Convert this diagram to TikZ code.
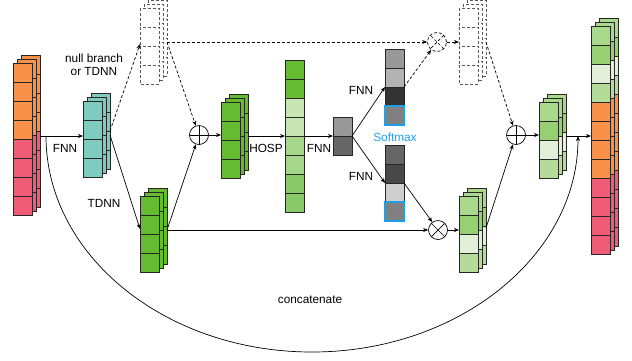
\documentclass[tikz,border=0pt]{standalone}
\usepackage{fontspec}
\setmainfont{Liberation Sans}
\usepackage{tikz}
\usetikzlibrary{arrows.meta}
\usepackage{xcolor}
\definecolor{inorange}{RGB}{250,145,75}
\definecolor{inred}{RGB}{240,92,117}
\definecolor{tealc}{RGB}{128,203,192}
\definecolor{greenc}{RGB}{102,187,48}
\definecolor{hosplight}{RGB}{200,229,180}
\definecolor{hospmid}{RGB}{165,215,138}
\definecolor{hospdark}{RGB}{137,201,103}
\definecolor{outa}{RGB}{168,217,140}
\definecolor{outb}{RGB}{150,208,114}
\definecolor{outc}{RGB}{226,240,217}
\definecolor{outd}{RGB}{180,220,152}
\definecolor{grayA}{RGB}{153,153,153}
\definecolor{grayB}{RGB}{179,179,179}
\definecolor{grayC}{RGB}{51,51,51}
\definecolor{grayD}{RGB}{128,128,128}
\definecolor{grayE}{RGB}{102,102,102}
\definecolor{grayF}{RGB}{72,72,72}
\definecolor{grayG}{RGB}{207,207,207}
\definecolor{softblue}{RGB}{30,160,230}

% one column of cells: x, y top, colours, extra style
\newcommand{\cellcol}[4]{%
  \foreach \c [count=\i from 0] in {#3} {\filldraw[cellbox, fill=\c, #4] (#1,{#2+19*\i}) rectangle ++(19,19);}}
% three columns stacked behind each other
\newcommand{\layered}[4]{%
  \foreach \d in {8,4,0} {\cellcol{#1+\d}{#2-\d}{#3}{#4}}}

\begin{document}
\begin{tikzpicture}[x=1pt, y=-1pt,
    font=\fontsize{11.8}{13.5}\selectfont,
    cellbox/.style={draw=black!85, line width=0.7pt},
    nullbox/.style={draw=black!65, dashed, dash pattern=on 3pt off 2pt},
    conn/.style={line width=0.7pt, -{Stealth[length=5pt, width=4pt]}},
    nullconn/.style={conn, dash pattern=on 3pt off 2pt},
    opnode/.style={circle, draw, line width=0.7pt, minimum size=19, inner sep=0pt},
    plusop/.style={opnode, path picture={
        \draw[line width=0.7pt] (path picture bounding box.north) -- (path picture bounding box.south)
              (path picture bounding box.west) -- (path picture bounding box.east);}},
    timesop/.style={opnode, path picture={
        \draw[line width=0.7pt] (path picture bounding box.north west) -- (path picture bounding box.south east)
              (path picture bounding box.south west) -- (path picture bounding box.north east);}}]
    \useasboundingbox (0,0) rectangle (632,360);
    % Input frames
    \layered{13}{63}{inorange,inorange,inorange,inorange,inred,inred,inred,inred}{}
    % FNN branch
    \layered{83}{101}{tealc,tealc,tealc,tealc}{}
    % TDNN branch
    \layered{140}{196}{greenc,greenc,greenc,greenc}{}
    % Null branch (dashed)
    \layered{140}{8}{white,white,white,white}{nullbox}
    \layered{459}{8}{white,white,white,white}{nullbox}
    % Sum
    \layered{221}{102}{greenc,greenc,greenc,greenc}{}
    % HOSP vector
    \cellcol{285}{60}{greenc,greenc,hosplight,hosplight,hospmid,hospmid,hospdark,hospdark}{}
    % FNN output
    \cellcol{333}{117}{grayA,grayE}{}
    % Attention weights
    \cellcol{385}{49}{grayA,grayB,grayC,grayD}{}
    \cellcol{385}{145}{grayE,grayF,grayG,grayD}{}
    \draw[softblue, line width=1.2pt] (385,106) rectangle ++(19,19);
    \draw[softblue, line width=1.2pt] (385,202) rectangle ++(19,19);
    % Weighted frames
    \layered{459}{196}{outa,outb,outc,outd}{}
    \layered{539}{102}{outa,outb,outc,outd}{}
    % Output frames
    \layered{591}{26}{outa,outb,outc,outd,inorange,inorange,inorange,inorange,inred,inred,inred,inred}{}

    % Operators
    \node[plusop] (add1) at (199,135) {};
    \node[timesop] (mul) at (438,230) {};
    \node[timesop, dashed, dash pattern=on 3pt off 2pt] (mulnull) at (437,42) {};
    \node[plusop] (add2) at (516,135) {};

    % Anchor points
    \coordinate (inout) at (40,136);
    \coordinate (catstart) at (46,136);
    \coordinate (tealin) at (83,136);
    \coordinate (tealup) at (110,131);
    \coordinate (tealdown) at (110,135);
    \coordinate (nullin) at (140,44);
    \coordinate (nullout) at (167,42);
    \coordinate (tdnnin) at (140,229);
    \coordinate (tdnnout) at (167,230);
    \coordinate (sumin) at (221,135);
    \coordinate (sumout) at (248,136);
    \coordinate (hospin) at (285,136);
    \coordinate (hospout) at (305,136);
    \coordinate (fnnin) at (333,136);
    \coordinate (fnnout) at (352,136);
    \coordinate (attup) at (385,87);
    \coordinate (attupout) at (404,87);
    \coordinate (attdown) at (385,183);
    \coordinate (attdownout) at (404,183);
    \coordinate (null2in) at (459,42);
    \coordinate (null2out) at (486,42);
    \coordinate (wgtin) at (459,230);
    \coordinate (wgtout) at (486,228);
    \coordinate (resin) at (539,135);
    \coordinate (resout) at (566,136);
    \coordinate (finalin) at (591,136);
    \coordinate (catend) at (578,136);
    \coordinate (catlow) at (312,352);

    % Connectors
    \draw[conn] (inout) -- (tealin);
    \draw[nullconn] (tealup) -- (nullin);
    \draw[conn] (tealdown) -- (tdnnin);
    \draw[nullconn] (nullout) -- (add1);
    \draw[conn] (tdnnout) -- (add1);
    \draw[conn] (tdnnout) -- (mul);
    \draw[conn] (add1) -- (sumin);
    \draw[conn] (sumout) -- (hospin);
    \draw[conn] (hospout) -- (fnnin);
    \draw[conn] (fnnout) -- (attup);
    \draw[conn] (fnnout) -- (attdown);
    \draw[nullconn] (attupout) -- (mulnull);
    \draw[nullconn] (nullout) -- (mulnull);
    \draw[nullconn] (mulnull) -- (null2in);
    \draw[nullconn] (null2out) -- (add2);
    \draw[conn] (attdownout) -- (mul);
    \draw[conn] (mul) -- (wgtin);
    \draw[conn] (wgtout) -- (add2);
    \draw[conn] (add2) -- (resin);
    \draw[conn] (resout) -- (finalin);
    \draw[conn] (catstart) .. controls (46,255) and (165,352) .. (catlow)
                           .. controls (459,352) and (578,255) .. (catend);

    % Labels
    \node[align=center] (nulllabel) at (94,65) {null branch\\or TDNN};
    \node (fnnlabel) at (65,148) {FNN};
    \node (tdnnlabel) at (104,203) {TDNN};
    \node (hosplabel) at (266,148) {HOSP};
    \node (fnnlabel2) at (319,148) {FNN};
    \node (fnnlabel3) at (361,90) {FNN};
    \node (fnnlabel4) at (361,176) {FNN};
    \node[softblue] (softlabel) at (395,137) {Softmax};
    \node (catlabel) at (310,300) {concatenate};
\end{tikzpicture}
\end{document}
